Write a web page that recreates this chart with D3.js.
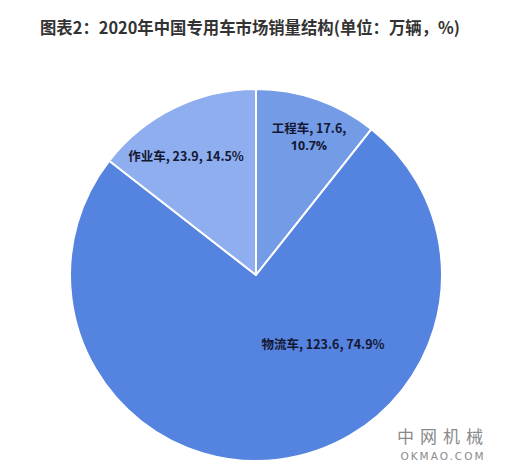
<!DOCTYPE html>
<html><head><meta charset="utf-8">
<script src="https://cdn.jsdelivr.net/npm/d3@7"></script>
<style>body{margin:0;background:#fff;}svg{display:block;}</style>
</head><body>
<svg id="c" width="514" height="470"></svg>
<script>
const categories = ["工程车", "物流车", "作业车"];
const values = [17.6, 123.6, 23.9];
const percents = ["10.7%", "74.9%", "14.5%"];
const colors = ["#739be6", "#5583e0", "#8eaeef"];

const svg = d3.select("#c");
const W = 514, H = 470;
svg.append("rect").attr("width", W).attr("height", H).attr("fill", "#fff");

svg.append("text").attr("x", 40).attr("y", 34)
  .attr("font-family", "'Noto Sans CJK SC', sans-serif").attr("font-weight", "bold")
  .attr("font-size", 16.5).attr("fill", "#333")
  .attr("textLength", 420).attr("lengthAdjust", "spacingAndGlyphs")
  .text("图表2：2020年中国专用车市场销量结构(单位：万辆，%)");

const cx = 256, cy = 275, r = 186;
const pie = d3.pie().sort(null).value(d => d)(values);
const arc = d3.arc().innerRadius(0).outerRadius(r);
const g = svg.append("g").attr("transform", `translate(${cx},${cy})`);
g.selectAll("path").data(pie).enter().append("path")
  .attr("d", arc).attr("fill", (d, i) => colors[i])
  .attr("stroke", "#fff").attr("stroke-width", 2).attr("stroke-linejoin", "round");

function label(x, y, lines, fam) {
  lines.forEach((s, k) => svg.append("text").attr("text-anchor", "middle")
    .attr("x", x).attr("y", y + k * 17)
    .attr("font-family", (fam && k > 0) ? fam : "'Noto Sans CJK SC', sans-serif")
    .attr("font-weight", "bold")
    .attr("font-size", 12.5).attr("fill", "#141833").text(s));
}
label(309, 133, [categories[0] + ", " + values[0] + ",", percents[0]], "'Open Sans', sans-serif");
label(323, 349, [categories[1] + ", " + values[1] + ", " + percents[1]]);
label(186, 161, [categories[2] + ", " + values[2] + ", " + percents[2]]);

svg.append("text").attr("x", 443).attr("y", 443).attr("text-anchor", "middle")
  .attr("font-family", "'Noto Sans CJK SC', sans-serif").attr("font-size", 17)
  .attr("letter-spacing", 6).attr("fill", "#8a8a8a").text("中网机械");
svg.append("text").attr("x", 443).attr("y", 460).attr("text-anchor", "middle")
  .attr("font-family", "'DejaVu Sans', sans-serif").attr("font-size", 10.5)
  .attr("letter-spacing", 2).attr("fill", "#8a8a8a").text("OKMAO.COM");
</script>
</body></html>
